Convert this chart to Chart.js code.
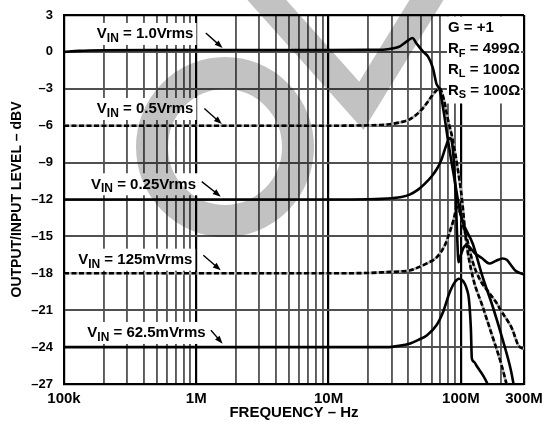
<!DOCTYPE html>
<html><head><meta charset="utf-8">
<script src="https://cdn.jsdelivr.net/npm/chart.js@4.4.1/dist/chart.umd.min.js"></script>
<style>html,body{margin:0;padding:0;background:#fff;}#wrap{width:544px;height:425px;}</style>
</head><body><div id="wrap"><canvas id="c" width="544" height="425"></canvas></div>
<script>
const FONT = '"Liberation Sans", Arial, Helvetica, sans-serif';

// ---- data (frequency in MHz, level in dBV) ----
const v1000Freq  = [0.1, 0.13, 0.2, 0.5, 1, 3, 10, 20, 27, 31, 34.6, 38.8, 43, 46.1, 51.8, 56.5, 61.5, 65.2, 69.2, 74.5, 79.8, 89.6, 100.5, 123, 146, 174, 207, 239, 252];
const v1000Level = [0.0, 0.08, 0.13, 0.15, 0.15, 0.15, 0.15, 0.17, 0.2, 0.3, 0.45, 0.83, 1.13, 0.7, 0.02, -0.39, -1.33, -2.55, -3.1, -5.0, -7.16, -10.4, -13.4, -15.6, -18.3, -20.7, -23.4, -25.9, -27.2];

const v500Freq  = [0.1, 1, 10, 20, 28, 34, 40, 45, 50.3, 55, 59.8, 64.5, 69, 74.5, 79.8, 87, 95, 102, 109, 123, 146, 174, 201, 225];
const v500Level = [-6.0, -6.0, -6.0, -5.97, -5.9, -5.75, -5.54, -5.2, -4.72, -4.2, -3.64, -3.2, -2.95, -3.9, -5.5, -7.2, -9.6, -12.0, -15.2, -18.3, -20.7, -23.2, -25.3, -27.3];

const v250Freq  = [0.1, 1, 10, 20, 25.2, 30, 35.6, 41, 47.5, 53, 59.8, 66, 71.1, 77.5, 82, 86.3, 89.3, 91.7, 93.3, 95, 95.9, 100, 105, 110, 117, 127, 144, 164, 183, 207, 222, 238, 259, 300];
const v250Level = [-12.0, -12.0, -12.0, -11.98, -11.95, -11.9, -11.8, -11.6, -11.2, -10.75, -10.15, -9.5, -8.8, -7.6, -7.0, -7.6, -9.6, -12.0, -14.5, -16.5, -17.1, -16.5, -15.9, -15.7, -15.9, -16.35, -16.76, -17.2, -17.0, -16.8, -16.9, -17.3, -17.8, -18.1];

const v125Freq  = [0.1, 1, 10, 20, 27.6, 34, 41.4, 48, 55.2, 65.6, 75.8, 82.6, 87.8, 93.8, 100, 105, 113, 123, 139, 164, 183, 207, 232, 246, 261, 273, 300];
const v125Level = [-18.0, -18.0, -18.0, -17.97, -17.9, -17.85, -17.76, -17.5, -17.2, -16.7, -15.7, -14.6, -13.7, -12.6, -13.3, -14.3, -15.5, -17.1, -18.5, -19.6, -20.3, -21.25, -22.07, -22.6, -23.4, -23.9, -24.15];

const v62Freq  = [0.1, 1, 10, 20, 27.6, 34, 41.4, 48, 55.2, 65.6, 73.6, 82.6, 90.2, 96.6, 102, 107, 111, 115, 119, 121, 126, 131, 147, 160, 165];
const v62Level = [-24.0, -24.0, -24.0, -24.0, -24.0, -23.9, -23.7, -23.4, -23.05, -22.2, -21.1, -19.5, -18.7, -18.44, -18.55, -18.85, -19.3, -20.1, -22.5, -24.9, -25.2, -25.5, -26.3, -27.05, -27.4];

// ---- axes ----
const xLabelValues = [1e5, 1e6, 1e7, 1e8, 3e8];
const xLabelTexts  = ['100k', '1M', '10M', '100M', '300M'];
const yMin = -27, yMax = 3, yStep = 3;

const seriesLabels = ['1.0Vrms', '0.5Vrms', '0.25Vrms', '125mVrms', '62.5mVrms'];
const legendLines = [
  {main: 'G', sub: '', rest: ' = +1'},
  {main: 'R', sub: 'F', rest: ' = 499\u03A9'},
  {main: 'R', sub: 'L', rest: ' = 100\u03A9'},
  {main: 'R', sub: 'S', rest: ' = 100\u03A9'}
];

// annotation anchors in data units (Hz, dBV)
const notes = [
  {text: seriesLabels[0], at: [0.177e6, 1.54],   tail: [1.18e6, 1.54],   head: [1.58e6, 0.32]},
  {text: seriesLabels[1], at: [0.177e6, -4.56],  tail: [1.15e6, -4.6],   head: [1.56e6, -5.86]},
  {text: seriesLabels[2], at: [0.160e6, -10.68], tail: [1.10e6, -10.55], head: [1.53e6, -11.77]},
  {text: seriesLabels[3], at: [0.128e6, -16.81], tail: [1.13e6, -16.54], head: [1.53e6, -17.76]},
  {text: seriesLabels[4], at: [0.150e6, -22.77], tail: [1.29e6, -22.63], head: [1.58e6, -23.72]}
];

function pts(f, l) { return f.map((v, i) => ({x: v * 1e6, y: l[i]})); }

const xGrid = [];
for (let e = 5; e <= 8; e++) for (let k = 1; k <= 9; k++) { const v = k * Math.pow(10, e); if (v <= 3e8 * 1.0001) xGrid.push(v); }

function solid(data, order) {
  return {data, borderColor: '#000', borderWidth: 2.6, pointRadius: 0, fill: false, cubicInterpolationMode: 'monotone', order};
}
function dashedTop(data, order) {
  return {data, borderColor: '#000', borderWidth: 2.6, borderDash: [5, 2.5], pointRadius: 0, fill: false, cubicInterpolationMode: 'monotone', order};
}
function dashedUnder(data, order) {
  return {data, borderColor: '#b0b0b0', borderWidth: 2.6, pointRadius: 0, fill: false, cubicInterpolationMode: 'monotone', order};
}

function richWidth(ctx, main, sub, rest, size, subSize) {
  ctx.font = `bold ${size}px ${FONT}`;
  let w = ctx.measureText(main).width + ctx.measureText(rest).width;
  ctx.font = `bold ${subSize}px ${FONT}`;
  w += ctx.measureText(sub).width;
  return w;
}
function drawRich(ctx, x, yMid, main, sub, rest, size, subSize) {
  ctx.textBaseline = 'alphabetic';
  ctx.textAlign = 'left';
  const base = yMid + size * 0.36;
  ctx.font = `bold ${size}px ${FONT}`;
  ctx.fillText(main, x, base);
  let w = ctx.measureText(main).width;
  ctx.font = `bold ${subSize}px ${FONT}`;
  ctx.fillText(sub, x + w, base + 3.5);
  w += ctx.measureText(sub).width;
  ctx.font = `bold ${size}px ${FONT}`;
  ctx.fillText(rest, x + w, base);
}

const isMajor = v => { const lg = Math.log10(v); return Math.abs(lg - Math.round(lg)) < 1e-6 || v >= 3e8 * 0.999; };

const overlay = {
  id: 'overlay',
  beforeDraw(chart) {
    const ctx = chart.ctx;
    ctx.save();
    ctx.fillStyle = '#fff';
    ctx.fillRect(0, 0, chart.width, chart.height);
    ctx.restore();
  },
  beforeDatasetsDraw(chart) {
    const ctx = chart.ctx, xs = chart.scales.x, ys = chart.scales.y, ca = chart.chartArea;
    ctx.save();
    notes.forEach(n => {
      const x = xs.getPixelForValue(n.at[0]), y = ys.getPixelForValue(n.at[1]);
      const w = richWidth(ctx, 'V', 'IN', ' = ' + n.text, 15, 12);
      ctx.fillStyle = '#fff';
      ctx.fillRect(x - 3, y - 10, w + 6, 22);
      ctx.fillStyle = '#000';
      drawRich(ctx, x, y, 'V', 'IN', ' = ' + n.text, 15, 12);
      const x1 = xs.getPixelForValue(n.tail[0]), y1 = ys.getPixelForValue(n.tail[1]);
      const x2 = xs.getPixelForValue(n.head[0]), y2 = ys.getPixelForValue(n.head[1]);
      const a = Math.atan2(y2 - y1, x2 - x1);
      ctx.strokeStyle = '#000'; ctx.lineWidth = 1.4;
      ctx.beginPath(); ctx.moveTo(x1, y1); ctx.lineTo(x2 - 5 * Math.cos(a), y2 - 5 * Math.sin(a)); ctx.stroke();
      ctx.beginPath();
      ctx.moveTo(x2, y2);
      ctx.lineTo(x2 - 8 * Math.cos(a) + 3 * Math.sin(a), y2 - 8 * Math.sin(a) - 3 * Math.cos(a));
      ctx.lineTo(x2 - 8 * Math.cos(a) - 3 * Math.sin(a), y2 - 8 * Math.sin(a) + 3 * Math.cos(a));
      ctx.closePath(); ctx.fill();
    });
    ctx.fillStyle = '#fff';
    ctx.fillRect(ca.right - 77, ca.top + 1.5, 74, 87);
    ctx.fillStyle = '#000';
    legendLines.forEach((l, i) => {
      drawRich(ctx, ca.right - 76, ca.top + 12 + i * 20.7, l.main, l.sub, l.rest, 15, 11);
    });
    ctx.restore();
  },
  afterDraw(chart) {
    // "OBSOLETE" watermark fragment (letters O and B), multiplied over the page
    const ctx = chart.ctx;
    ctx.save();
    ctx.globalCompositeOperation = 'multiply';
    ctx.strokeStyle = '#c2c2c2';
    ctx.lineWidth = 32;
    ctx.beginPath();
    ctx.ellipse(225, 147, 73, 74, 0, 0, Math.PI * 2);
    ctx.stroke();
    ctx.lineWidth = 29;
    ctx.lineJoin = 'miter';
    ctx.beginPath();
    ctx.moveTo(232, -39);
    ctx.lineTo(361.4, 105.8);
    ctx.lineTo(450.5, -39);
    ctx.stroke();
    ctx.restore();
  }
};

new Chart(document.getElementById('c'), {
  type: 'line',
  data: {
    datasets: [
      solid(pts(v1000Freq, v1000Level), 0),
      dashedTop(pts(v500Freq, v500Level), 1),
      dashedUnder(pts(v500Freq, v500Level), 10),
      solid(pts(v250Freq, v250Level), 2),
      dashedTop(pts(v125Freq, v125Level), 3),
      dashedUnder(pts(v125Freq, v125Level), 11),
      solid(pts(v62Freq, v62Level), 4)
    ]
  },
  options: {
    responsive: false,
    animation: false,
    events: [],
    layout: {padding: {left: 0, right: 20, top: 15, bottom: 0}},
    plugins: {legend: {display: false}, tooltip: {enabled: false}},
    scales: {
      x: {
        type: 'logarithmic',
        min: 1e5, max: 3e8,
        afterBuildTicks: s => { s.ticks = xGrid.map(v => ({value: v})); },
        afterFit: s => { s.height = 41; s.paddingRight = 0; s.paddingLeft = 0; },
        ticks: {
          autoSkip: false, maxRotation: 0, minRotation: 0, padding: 6, color: '#000',
          font: {family: FONT, size: 15, weight: 'bold'},
          callback: v => { const i = xLabelValues.findIndex(t => Math.abs(t - v) / t < 1e-6); return i >= 0 ? xLabelTexts[i] : ''; }
        },
        grid: {
          drawTicks: false,
          color: c => isMajor(c.tick.value) ? '#000' : '#5a5a5a',
          lineWidth: c => isMajor(c.tick.value) ? 2.2 : 1.9
        },
        border: {display: true, color: '#000', width: 2},
        title: {display: true, text: 'FREQUENCY \u2013 Hz', color: '#000', font: {family: FONT, size: 15, weight: 'bold'}, padding: {top: 0, bottom: 3}}
      },
      y: {
        type: 'linear',
        min: yMin, max: yMax,
        afterFit: s => { s.width = 64; s.paddingTop = 0; s.paddingBottom = 0; },
        ticks: {
          stepSize: yStep, padding: 11, color: '#000',
          font: {family: FONT, size: 13, weight: 'bold'},
          callback: v => v < 0 ? '\u2013' + Math.abs(v) : String(v)
        },
        grid: {
          drawTicks: false,
          color: c => (c.tick.value === yMax || c.tick.value === yMin) ? '#000' : '#505050',
          lineWidth: c => (c.tick.value === yMax || c.tick.value === yMin) ? 2.2 : 1.9
        },
        border: {display: true, color: '#000', width: 2},
        title: {display: true, text: 'OUTPUT/INPUT LEVEL \u2013 dBV', color: '#000', font: {family: FONT, size: 14, weight: 'bold'}, padding: {top: 9, bottom: 0}}
      }
    }
  },
  plugins: [overlay]
});
</script></body></html>
